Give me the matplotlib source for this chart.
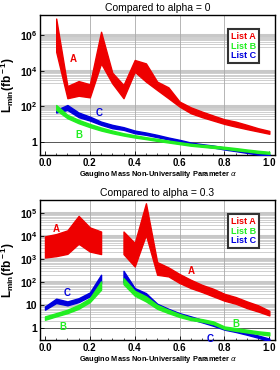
import numpy as np
import matplotlib
matplotlib.use('Agg')
import matplotlib.pyplot as plt
from matplotlib.patches import Patch

# alpha values
x_top = np.arange(0.05, 1.0001, 0.05)
x_seg1 = np.array([0.0, 0.05, 0.1, 0.15, 0.2, 0.25])
x_seg2 = np.arange(0.35, 1.0001, 0.05)

# top panel: log10 of L_min band edges (upper, lower)
a_hi_top = [6.92, 3.14, 3.42, 3.24, 6.18, 3.89, 3.20, 4.60, 4.41, 3.39, 3.07, 2.27, 1.95, 1.71, 1.49, 1.28, 1.15, 0.97, 0.78, 0.63]
a_lo_top = [5.06, 2.46, 2.60, 2.51, 4.41, 3.29, 2.46, 3.94, 3.39, 2.92, 2.46, 1.99, 1.62, 1.40, 1.21, 1.02, 0.87, 0.73, 0.60, 0.47]
b_hi_top = [2.08, 1.53, 1.25, 1.02, 0.82, 0.65, 0.50, 0.39, 0.28, 0.19, 0.09, 0.00, -0.09, -0.15, -0.20, -0.26, -0.33, -0.41, -0.48, -0.54]
b_lo_top = [1.80, 1.34, 1.06, 0.84, 0.65, 0.50, 0.37, 0.26, 0.17, 0.07, -0.02, -0.11, -0.20, -0.26, -0.32, -0.37, -0.45, -0.52, -0.60, -0.65]
c_hi_top = [1.80, 2.08, 1.66, 1.43, 1.15, 0.97, 0.84, 0.65, 0.54, 0.41, 0.26, 0.13, -0.02, -0.11, -0.19, -0.30, -0.39, -0.48, -0.58, -0.65]
c_lo_top = [1.66, 1.80, 1.40, 1.21, 0.97, 0.78, 0.69, 0.50, 0.41, 0.28, 0.15, 0.00, -0.13, -0.22, -0.30, -0.41, -0.50, -0.60, -0.69, -0.76]

# bottom panel, two segments
a_hi_1 = [3.99, 4.09, 4.25, 4.88, 4.38, 4.20]
a_lo_1 = [3.07, 3.13, 3.23, 3.67, 3.33, 3.22]
b_hi_1 = [0.51, 0.65, 0.80, 1.01, 1.30, 2.03]
b_lo_1 = [0.36, 0.51, 0.65, 0.84, 1.13, 1.67]
c_hi_1 = [0.94, 1.28, 1.16, 1.30, 1.55, 2.32]
c_lo_1 = [0.80, 1.09, 0.99, 1.13, 1.38, 1.96]

a_hi_2 = [4.20, 3.70, 5.43, 2.87, 2.64, 2.35, 2.10, 1.88, 1.71, 1.49, 1.35, 1.16, 0.99, 0.75]
a_lo_2 = [3.22, 2.68, 4.06, 2.32, 2.25, 1.96, 1.74, 1.57, 1.38, 1.19, 1.06, 0.87, 0.72, 0.55]
b_hi_2 = [2.17, 1.62, 1.38, 1.01, 0.80, 0.61, 0.46, 0.39, 0.29, 0.07, 0.00, -0.07, -0.14, -0.19]
b_lo_2 = [1.91, 1.41, 1.16, 0.84, 0.65, 0.48, 0.35, 0.28, 0.17, -0.04, -0.12, -0.19, -0.26, -0.32]
c_hi_2 = [2.49, 1.74, 1.52, 1.06, 0.84, 0.65, 0.51, 0.36, 0.22, 0.03, -0.07, -0.19, -0.32, -0.46]
c_lo_2 = [2.00, 1.52, 1.23, 0.90, 0.70, 0.52, 0.39, 0.25, 0.10, -0.07, -0.17, -0.29, -0.42, -0.57]

RED, GREEN, BLUE = '#ee0000', '#22ee22', '#0000dd'

plt.rcParams['font.family'] = ['Liberation Sans', 'DejaVu Sans']
plt.rcParams['mathtext.fontset'] = 'custom'
plt.rcParams['mathtext.rm'] = 'Liberation Sans:bold'
plt.rcParams['mathtext.bf'] = 'Liberation Sans:bold'

fig = plt.figure(figsize=(2.8, 3.7), dpi=100)
ax1 = fig.add_axes([0.143, 0.581, 0.839, 0.378])
ax2 = fig.add_axes([0.143, 0.081, 0.839, 0.378])


def band(ax, x, hi, lo, color):
    ax.fill_between(x, 10 ** np.array(lo), 10 ** np.array(hi), color=color,
                    edgecolor=color, linewidth=1.0, zorder=3)


def style(ax, title, ylo, yhi, grid_decades, ticks, ticklabels):
    ax.set_yscale('log')
    ax.set_xlim(-0.022, 1.025)
    ax.set_ylim(10 ** ylo, 10 ** yhi)
    for k in grid_decades:
        for m in range(2, 10):
            ax.axhline(m * 10 ** k, color='#c8c8c8', lw=0.6, zorder=1)
        ax.axhline(10 ** (k + 1), color='#c8c8c8', lw=2.2, zorder=1)
    ax.axhline(1, color='#555555', lw=0.7, zorder=1)
    for xv in [0.2, 0.4, 0.6, 0.8]:
        ax.axvline(xv, color='#aaaaaa', lw=0.6, zorder=1)
    ax.set_yticks(ticks)
    ax.set_yticklabels(ticklabels, fontsize=7.5, fontweight='bold')
    ax.yaxis.set_minor_locator(matplotlib.ticker.NullLocator())
    ax.set_xticks([0.0, 0.2, 0.4, 0.6, 0.8, 1.0])
    ax.set_xticklabels(['0.0', '0.2', '0.4', '0.6', '0.8', '1.0'], fontsize=7, fontweight='bold')
    ax.set_xticks(np.arange(0, 1.01, 0.05), minor=True)
    ax.tick_params(direction='in', length=3, width=0.6, pad=2)
    ax.tick_params(which='minor', direction='in', length=1.5, width=0.5)
    ax.set_title(title, fontsize=7.5, pad=3)
    ax.set_xlabel(r'Gaugino Mass Non-Universality Parameter $\alpha$', fontsize=5.3,
                  fontweight='bold', labelpad=1)
    ax.set_ylabel(r'L$_{\rm min}$(fb$^{\rm -1}$)', fontsize=8.5, fontweight='bold', labelpad=2)
    for s in ax.spines.values():
        s.set_linewidth(1.0)
    leg = ax.legend(handles=[Patch(visible=False, label='List A'),
                             Patch(visible=False, label='List B'),
                             Patch(visible=False, label='List C')],
                    loc='upper right', bbox_to_anchor=(0.95, 0.93), handlelength=0,
                    handletextpad=0, fancybox=False, framealpha=1, borderpad=0.3,
                    labelspacing=0.05, prop={'size': 6.5, 'weight': 'bold'})
    leg.get_frame().set_edgecolor('#333333')
    leg.get_frame().set_linewidth(1.5)
    for t, c in zip(leg.get_texts(), [RED, GREEN, BLUE]):
        t.set_color(c)
    leg.set_zorder(10)


# top panel
band(ax1, x_top, a_hi_top, a_lo_top, RED)
band(ax1, x_top, c_hi_top, c_lo_top, BLUE)
band(ax1, x_top, b_hi_top, b_lo_top, GREEN)
style(ax1, 'Compared to alpha = 0', -0.72, 7.11, [5, 3, 1],
      [1, 1e2, 1e4, 1e6], ['1', r'$10^{2}$', r'$10^{4}$', r'$10^{6}$'])
ax1.text(0.11, 10 ** 4.5, 'A', color=RED, fontsize=7, fontweight='bold', zorder=5)
ax1.text(0.225, 10 ** 1.45, 'C', color=BLUE, fontsize=7, fontweight='bold', zorder=5)
ax1.text(0.135, 10 ** 0.25, 'B', color=GREEN, fontsize=7, fontweight='bold', zorder=5)

# bottom panel
band(ax2, x_seg1, a_hi_1, a_lo_1, RED)
band(ax2, x_seg2, a_hi_2, a_lo_2, RED)
band(ax2, x_seg1, c_hi_1, c_lo_1, BLUE)
band(ax2, x_seg2, c_hi_2, c_lo_2, BLUE)
band(ax2, x_seg1, b_hi_1, b_lo_1, GREEN)
band(ax2, x_seg2, b_hi_2, b_lo_2, GREEN)
style(ax2, 'Compared to alpha = 0.3', -0.52, 5.565, [0, 1, 2, 3, 4],
      [1, 10, 1e2, 1e3, 1e4, 1e5],
      ['1', '10', r'$10^{2}$', r'$10^{3}$', r'$10^{4}$', r'$10^{5}$'])
ax2.text(0.035, 10 ** 4.2, 'A', color=RED, fontsize=7, fontweight='bold', zorder=5)
ax2.text(0.635, 10 ** 2.35, 'A', color=RED, fontsize=7, fontweight='bold', zorder=5)
ax2.text(0.085, 10 ** 1.4, 'C', color=BLUE, fontsize=7, fontweight='bold', zorder=5)
ax2.text(0.065, 10 ** -0.1, 'B', color=GREEN, fontsize=7, fontweight='bold', zorder=5)
ax2.text(0.835, 10 ** 0.05, 'B', color=GREEN, fontsize=7, fontweight='bold', zorder=5)
ax2.text(0.72, 10 ** -0.6, 'C', color=BLUE, fontsize=7, fontweight='bold', zorder=5)

fig.savefig('out.png', dpi=100)
